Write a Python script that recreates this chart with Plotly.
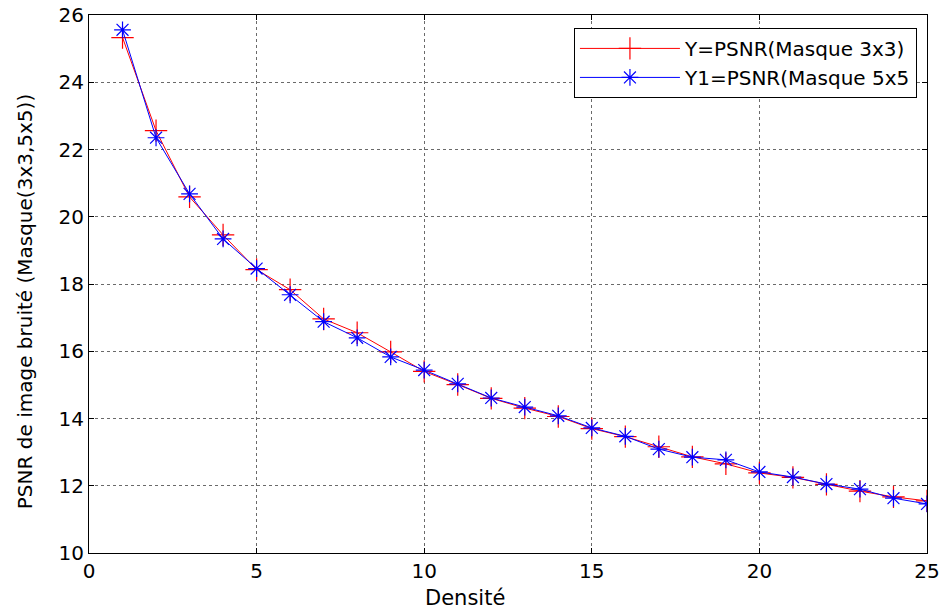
import plotly.graph_objects as go

densite = list(range(1, 26))
psnr_3x3 = [25.33, 22.56, 20.59, 19.46, 18.43, 17.83, 16.96, 16.55, 15.98, 15.40,
            15.01, 14.60, 14.31, 14.06, 13.70, 13.46, 13.16, 12.86, 12.65, 12.38,
            12.25, 12.04, 11.84, 11.67, 11.55]
psnr_5x5 = [25.56, 22.35, 20.68, 19.34, 18.46, 17.68, 16.88, 16.40, 15.83, 15.44,
            15.03, 14.61, 14.34, 14.08, 13.72, 13.47, 13.09, 12.85, 12.77, 12.41,
            12.26, 12.05, 11.90, 11.63, 11.46]

x_title = "Densité"
y_title = "PSNR de image bruité (Masque(3x3,5x5))"

FONT = "DejaVu Sans, Liberation Sans, Arial, sans-serif"

fig = go.Figure()
fig.add_trace(go.Scatter(
    x=densite, y=psnr_3x3, mode="lines+markers", name="Y=PSNR(Masque 3x3)",
    line=dict(color="#ff0000", width=1),
    marker=dict(symbol="cross-thin-open", size=16, color="#ff0000",
                line=dict(color="#ff0000", width=1.2)),
))
fig.add_trace(go.Scatter(
    x=densite, y=psnr_5x5, mode="lines+markers", name="Y1=PSNR(Masque 5x5",
    line=dict(color="#0000ff", width=1),
    marker=dict(symbol="asterisk-open", size=14, color="#0000ff",
                line=dict(color="#0000ff", width=1.2)),
))

axis_common = dict(
    showline=True, linecolor="black", linewidth=1, mirror="ticks",
    ticks="inside", ticklen=5, tickcolor="black",
    showgrid=True, gridcolor="#6a6a6a", griddash="dot", gridwidth=1,
    zeroline=False, automargin=False, ticklabeloverflow="allow",
    tickfont=dict(family=FONT, size=20, color="black"),
)

fig.update_layout(
    width=944, height=612,
    margin=dict(l=89, r=17, t=15, b=59),
    paper_bgcolor="white", plot_bgcolor="white",
    font=dict(family=FONT, color="black"),
    xaxis=dict(range=[0, 25], tick0=0, dtick=5, **axis_common),
    yaxis=dict(range=[10, 26], tick0=10, dtick=2, **axis_common),
    legend=dict(x=0.988, y=0.976, xanchor="right", yanchor="top",
                bgcolor="white", bordercolor="black", borderwidth=1,
                font=dict(size=20, family=FONT),
                itemwidth=100, tracegroupgap=0),
    showlegend=True,
    annotations=[
        dict(text=x_title, xref="paper", yref="paper", x=0.4487, y=-0.0836,
             xanchor="center", yanchor="middle", showarrow=False,
             font=dict(size=21, family=FONT, color="black")),
        dict(text=y_title, xref="paper", yref="paper", x=-0.0764, y=0.468,
             xanchor="center", yanchor="middle", showarrow=False, textangle=-90,
             font=dict(size=20, family=FONT, color="black")),
    ],
)

fig.write_html("out.html", config={"displayModeBar": False},
               post_script="document.body.style.margin='0';")
